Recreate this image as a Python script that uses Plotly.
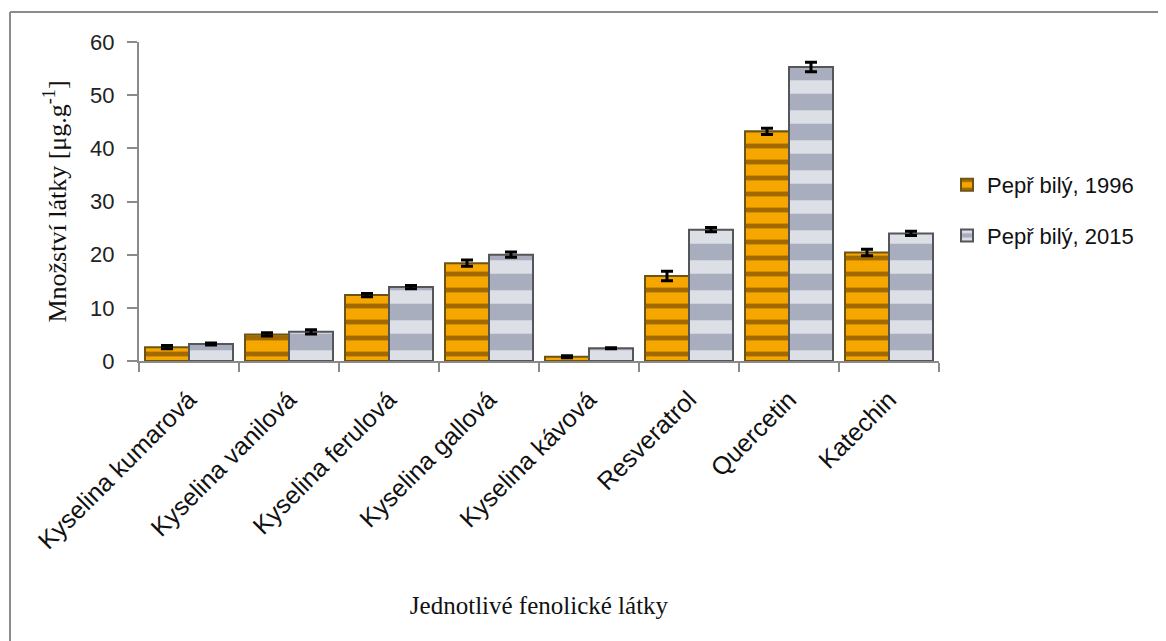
import plotly.graph_objects as go

categories = ["Kyselina kumarová", "Kyselina vanilová", "Kyselina ferulová", "Kyselina gallová",
              "Kyselina kávová", "Resveratrol", "Quercetin", "Katechin"]
series_names = ["Pepř bilý, 1996", "Pepř bilý, 2015"]
values_1996 = [2.6, 5.0, 12.4, 18.4, 0.8, 16.0, 43.2, 20.4]
errors_1996 = [0.3, 0.3, 0.3, 0.6, 0.2, 0.9, 0.6, 0.6]
values_2015 = [3.2, 5.5, 13.9, 20.0, 2.4, 24.7, 55.3, 24.0]
errors_2015 = [0.2, 0.4, 0.3, 0.5, 0.1, 0.4, 0.9, 0.4]
y_ticks = [0, 10, 20, 30, 40, 50, 60]

# page body has an 8px margin
OFF = 8
W, H = 1158, 633
L, T = 131, 34
PW, PH = 800, 319
R, B = W - L - PW, H - T - PH

def px_x(p):
    return ((p - OFF) - L) / PW

def px_y(p):
    return (T + PH - (p - OFF)) / PH

fig = go.Figure()
fig.add_trace(go.Bar(
    x=categories, y=values_1996, name=series_names[0], legendgroup="a",
    marker=dict(color="#F2A300", line=dict(color="#6E5414", width=2),
                pattern=dict(shape="-", fgcolor="#A06A00", bgcolor="#F5A700",
                             size=16, solidity=0.3, fillmode="replace")),
    error_y=dict(type="data", array=errors_1996, color="black", thickness=3, width=6),
))
fig.add_trace(go.Bar(
    x=categories, y=values_2015, name=series_names[1], legendgroup="b",
    marker=dict(color="#B4B9C6", line=dict(color="#55565A", width=2),
                pattern=dict(shape="-", fgcolor="#DCDFE6", bgcolor="#A8AEBD",
                             size=30, solidity=0.45, fillmode="replace")),
    error_y=dict(type="data", array=errors_2015, color="black", thickness=3, width=6),
))

fig.update_layout(
    width=W, height=H,
    margin=dict(l=L, r=R, t=T, b=B, autoexpand=False),
    paper_bgcolor="white", plot_bgcolor="white",
    barmode="group", bargap=0.12, bargroupgap=0.0,
    font=dict(family="Liberation Sans, Arial", size=22, color="#1a1a1a"),
    legend=dict(x=px_x(947), y=px_y(164), xanchor="left", yanchor="top",
                font=dict(size=22, family="Liberation Sans, Arial", color="#111"),
                tracegroupgap=19, itemwidth=30, bgcolor="rgba(0,0,0,0)"),
    xaxis=dict(showline=True, linecolor="#8a8a8a", linewidth=2, ticks="outside",
               tickson="boundaries", ticklen=9, tickcolor="#8a8a8a", tickwidth=2,
               tickangle=-45, ticklabelstandoff=12,
               tickfont=dict(size=25, family="Liberation Sans, Arial", color="#111"),
               showgrid=False, automargin=False,
               title=dict(text="Jednotlivé fenolické látky",
                          font=dict(family="Liberation Serif, Times New Roman", size=25, color="#111"),
                          standoff=43)),
    yaxis=dict(range=[0, 60], tickvals=y_ticks, showline=True, linecolor="#8a8a8a", linewidth=2,
               ticks="outside", ticklen=10, tickcolor="#8a8a8a", tickwidth=2, showgrid=False,
               zeroline=False, automargin=False, ticklabelstandoff=8,
               tickfont=dict(size=22, family="Liberation Sans, Arial", color="#222"),
               title=dict(text="Množství látky [μg.g<sup>-1</sup>]",
                          font=dict(family="Liberation Serif, Times New Roman", size=26, color="#111"),
                          standoff=16)),
    shapes=[
        dict(type="line", xref="paper", yref="paper", x0=px_x(10), x1=px_x(1180),
             y0=px_y(12), y1=px_y(12), line=dict(color="#8c8c8c", width=2)),
        dict(type="line", xref="paper", yref="paper", x0=px_x(10), x1=px_x(10),
             y0=px_y(12), y1=px_y(660), line=dict(color="#8c8c8c", width=2)),
    ],
)

fig.write_html("out.html")
